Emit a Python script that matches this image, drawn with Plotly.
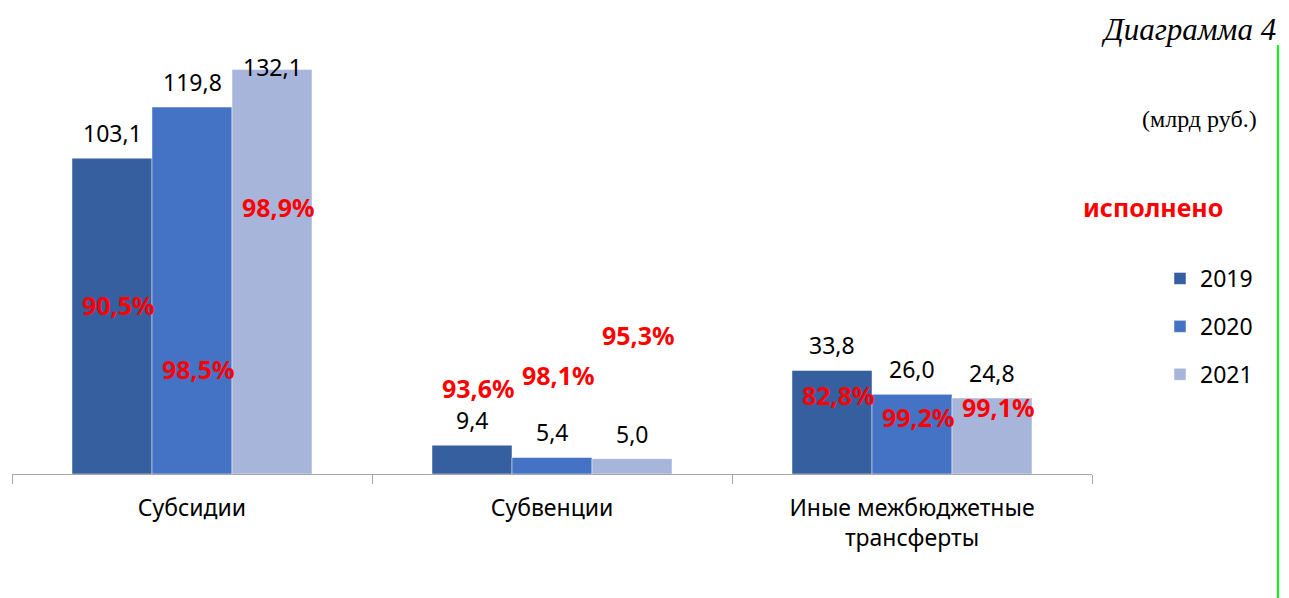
import plotly.graph_objects as go

categories = ["Субсидии", "Субвенции", "Иные межбюджетные<br>трансферты"]
years = ["2019", "2020", "2021"]
values_2019 = [103.1, 9.4, 33.8]
values_2020 = [119.8, 5.4, 26.0]
values_2021 = [132.1, 5.0, 24.8]
pct_2019 = ["90,5%", "93,6%", "82,8%"]
pct_2020 = ["98,5%", "98,1%", "99,2%"]
pct_2021 = ["98,9%", "95,3%", "99,1%"]

# label placement (data units) for the "исполнено" percentages, as laid out in the source
pct_pos_2019 = [55.2, 28.1, 25.8]
pct_pos_2020 = [34.3, 32.3, 18.6]
pct_pos_2021 = [87.2, 45.4, 21.9]

colors = ["#365F9F", "#4472C4", "#A7B5DA"]
FONT = "Noto Sans"
YMAX = 141.7

series = [values_2019, values_2020, values_2021]
pcts = [pct_2019, pct_2020, pct_2021]
pct_pos = [pct_pos_2019, pct_pos_2020, pct_pos_2021]

# page has an 8px body margin: figure coordinates = page coordinates - 8
OFF = 8
PAGE_W, PAGE_H = 1289, 598
W, H = PAGE_W - OFF, PAGE_H - OFF
# plot area in page pixels: x 12..1092, y 40..474
L, R = 12 - OFF, W - (1092 - OFF)
T, B = 40 - OFF, H - (474 - OFF)
pw, ph = W - L - R, H - T - B


def px_x(x):
    return (x - OFF - L) / pw


def px_y(y):
    return 1 - (y - OFF - T) / ph


fig = go.Figure()
for k, (yr, vals) in enumerate(zip(years, series)):
    fig.add_trace(go.Bar(
        x=categories, y=vals, name=yr, legendgroup=yr,
        marker=dict(color=colors[k], line=dict(color="rgba(255,255,255,0.6)", width=0.8)),
        hoverinfo="skip",
    ))

bar_w = (1 - 1/3) / 3
annotations = []
for k in range(3):
    off = (k - 1) * bar_w
    for i in range(3):
        v = series[k][i]
        ly = min(v + 25 / 3.063, 132.9)
        annotations.append(dict(
            x=i + off, y=ly, xref="x", yref="y", showarrow=False,
            text=f"{v:.1f}".replace(".", ","),
            font=dict(family=FONT, size=23, color="#000000"),
            xanchor="center", yanchor="middle",
        ))
        annotations.append(dict(
            x=i + off, y=pct_pos[k][i], xref="x", yref="y", showarrow=False,
            text=f"<b>{pcts[k][i]}</b>", xshift=6,
            font=dict(family=FONT, size=25, color="#FF0000"),
            xanchor="center", yanchor="middle",
        ))

annotations += [
    dict(x=px_x(1278), y=px_y(29), xref="paper", yref="paper", text="<i>Диаграмма 4</i>",
         showarrow=False, font=dict(family="Liberation Serif", size=31, color="#000000"),
         xanchor="right", yanchor="middle"),
    dict(x=px_x(1259), y=px_y(119), xref="paper", yref="paper", text="(млрд руб.)",
         showarrow=False, font=dict(family="Liberation Serif", size=24, color="#000000"),
         xanchor="right", yanchor="middle"),
    dict(x=px_x(1153), y=px_y(207), xref="paper", yref="paper", text="<b>исполнено</b>",
         showarrow=False, font=dict(family=FONT, size=25, color="#FF0000"),
         xanchor="center", yanchor="middle"),
]

fig.update_layout(
    width=W, height=H,
    margin=dict(l=L, r=R, t=T, b=B, pad=0, autoexpand=False),
    paper_bgcolor="white", plot_bgcolor="white",
    barmode="group", bargap=1/3, bargroupgap=0,
    separators=", ",
    font=dict(family=FONT, size=23, color="#000000"),
    xaxis=dict(
        showline=True, linecolor="#A6A6A6", linewidth=1,
        ticks="outside", tickson="boundaries", ticklen=9, tickcolor="#A6A6A6",
        tickfont=dict(family=FONT, size=23, color="#000000"),
        ticklabelstandoff=13,
        showgrid=False, zeroline=False, fixedrange=True,
    ),
    yaxis=dict(range=[0, YMAX], visible=False, showgrid=False, zeroline=False, fixedrange=True),
    legend=dict(
        x=px_x(1160), y=px_y(257), xanchor="left", yanchor="top",
        font=dict(family=FONT, size=23, color="#000000"),
        tracegroupgap=15, traceorder="grouped", bgcolor="rgba(0,0,0,0)",
    ),
    annotations=annotations,
    shapes=[dict(type="line", xref="paper", yref="paper",
                 x0=px_x(1278), x1=px_x(1278),
                 y0=px_y(45), y1=px_y(598),
                 line=dict(color="#00FF00", width=2))],
    showlegend=True,
)

fig.write_html("out.html")
